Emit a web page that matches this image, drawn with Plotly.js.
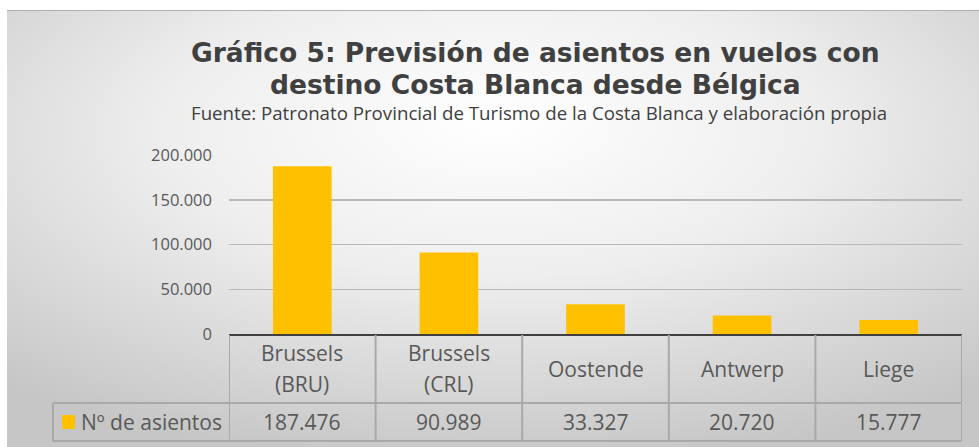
<!DOCTYPE html>
<html>
<head>
<meta charset="utf-8">
<script src="https://cdn.plot.ly/plotly-3.0.1.min.js"></script>
<style>html,body{margin:0;padding:0;background:#fff;}#chart{width:979px;height:447px;}</style>
</head>
<body>
<div id="chart"></div>
<script>
// ---- data ----
const categories = ["Brussels (BRU)", "Brussels (CRL)", "Oostende", "Antwerp", "Liege"];
const seats = [187476, 90989, 33327, 20720, 15777];
const seriesName = "Nº de asientos";
const yTicks = [0, 50000, 100000, 150000, 200000];
const titleLine1 = "Gráfico 5: Previsión de asientos en vuelos con";
const titleLine2 = "destino Costa Blanca desde Bélgica";
const subtitle = "Fuente: Patronato Provincial de Turismo de la Costa Blanca y elaboración propia";

// ---- geometry helpers (pixel -> paper) ----
const W = 979, H = 447;
const M = {l: 229, r: 17, t: 155, b: 113};
const pw = W - M.l - M.r, ph = H - M.t - M.b;
const px = x => (x - M.l) / pw;
const py = y => (H - M.b - y) / ph;
const fmt = v => v.toString().replace(/\B(?=(\d{3})+(?!\d))/g, '.');

// background gradient
const svg = '<svg xmlns="http://www.w3.org/2000/svg" width="972" height="436" preserveAspectRatio="none">' +
  '<defs><radialGradient id="g" cx="50%" cy="30%" r="75%" fx="50%" fy="25%">' +
  '<stop offset="0" stop-color="#ffffff"/><stop offset="0.45" stop-color="#eeeeee"/><stop offset="1" stop-color="#c6c6c6"/></radialGradient></defs>' +
  '<rect width="972" height="436" fill="url(#g)"/></svg>';
const bgSrc = 'data:image/svg+xml;base64,' + btoa(svg);

const fontT = "Open Sans, sans-serif";
const gray = "#595959";
const lineC = "#a9a9a9";

const yHead0 = py(335), yHead1 = py(403), yRow1 = py(441);
const shapes = [];
const annotations = [];

// top border
shapes.push({type: 'line', xref: 'paper', yref: 'paper', x0: px(7), x1: px(979), y0: py(10.5), y1: py(10.5), line: {color: '#b0b0b0', width: 1}});
// table horizontal lines
shapes.push({type: 'line', xref: 'paper', yref: 'paper', x0: px(53), x1: 1, y0: yHead1, y1: yHead1, line: {color: lineC, width: 2}});
shapes.push({type: 'line', xref: 'paper', yref: 'paper', x0: px(53), x1: 1, y0: yRow1, y1: yRow1, line: {color: lineC, width: 2}});
shapes.push({type: 'line', xref: 'paper', yref: 'paper', x0: px(53), x1: px(53), y0: yHead1, y1: yRow1, line: {color: lineC, width: 2}});
// vertical separators by category
for (let i = 0; i <= categories.length; i++) {
  shapes.push({type: 'line', xref: 'x', yref: 'paper', x0: i - 0.5, x1: i - 0.5, y0: yHead0, y1: yRow1, line: {color: lineC, width: 2}});
}
// legend key
shapes.push({type: 'rect', xref: 'paper', yref: 'paper', x0: px(62), x1: px(75), y0: py(415), y1: py(429), fillcolor: '#FFC000', line: {width: 0}});

// table text
const tf = {family: fontT, size: 21, color: gray};
categories.forEach((c, i) => {
  const k = c.indexOf(' (');
  if (k > 0) {
    annotations.push({xref: 'x', yref: 'paper', x: i, y: py(353), text: c.slice(0, k), showarrow: false, font: tf, xanchor: 'center', yanchor: 'middle'});
    annotations.push({xref: 'x', yref: 'paper', x: i, y: py(384), text: c.slice(k + 1), showarrow: false, font: tf, xanchor: 'center', yanchor: 'middle'});
  } else {
    annotations.push({xref: 'x', yref: 'paper', x: i, y: (yHead0 + yHead1) / 2, text: c, showarrow: false, font: tf, xanchor: 'center', yanchor: 'middle'});
  }
  annotations.push({xref: 'x', yref: 'paper', x: i, y: (yHead1 + yRow1) / 2, text: fmt(seats[i]), showarrow: false,
    font: tf, xanchor: 'center', yanchor: 'middle'});
});
annotations.push({xref: 'paper', yref: 'paper', x: px(79), y: (yHead1 + yRow1) / 2, text: seriesName, showarrow: false,
  font: tf, xanchor: 'left', yanchor: 'middle'});

// titles
annotations.push({xref: 'paper', yref: 'paper', x: px(535), y: py(52), text: '<b>' + titleLine1 + '</b>', showarrow: false,
  font: {family: "DejaVu Sans, sans-serif", size: 26.5, color: '#404040'}, xanchor: 'center', yanchor: 'middle'});
annotations.push({xref: 'paper', yref: 'paper', x: px(535), y: py(84), text: '<b>' + titleLine2 + '</b>', showarrow: false,
  font: {family: "DejaVu Sans, sans-serif", size: 26.5, color: '#404040'}, xanchor: 'center', yanchor: 'middle'});
annotations.push({xref: 'paper', yref: 'paper', x: px(539), y: py(112), text: subtitle, showarrow: false,
  font: {family: fontT, size: 18.7, color: '#404040'}, xanchor: 'center', yanchor: 'middle'});

const data = [{
  type: 'bar', x: categories, y: seats, name: seriesName,
  marker: {color: '#FFC000', line: {width: 0}}, width: 0.4, hoverinfo: 'none'
}];

const layout = {
  width: W, height: H, margin: M,
  paper_bgcolor: '#ffffff', plot_bgcolor: 'rgba(0,0,0,0)',
  separators: ',.',
  showlegend: false,
  images: [{source: bgSrc, xref: 'paper', yref: 'paper', x: px(7), y: py(11), sizex: (W - 7) / pw, sizey: (H - 11) / ph,
    xanchor: 'left', yanchor: 'top', sizing: 'stretch', layer: 'below'}],
  xaxis: {type: 'category', showticklabels: false, showgrid: false, showline: true, linecolor: '#404040', linewidth: 2,
    ticks: '', zeroline: false, range: [-0.5, categories.length - 0.5], fixedrange: true},
  yaxis: {range: [0, 200000], tickvals: yTicks, tickformat: ',d', showgrid: true, gridcolor: '#b8b8b8', gridwidth: 1.5,
    zeroline: false, showline: false, ticks: '', ticklabelstandoff: 16,
    tickfont: {family: fontT, size: 16.5, color: gray}, fixedrange: true},
  shapes: shapes,
  annotations: annotations
};

Plotly.newPlot('chart', data, layout, {displayModeBar: false, staticPlot: true});
</script>
</body>
</html>
